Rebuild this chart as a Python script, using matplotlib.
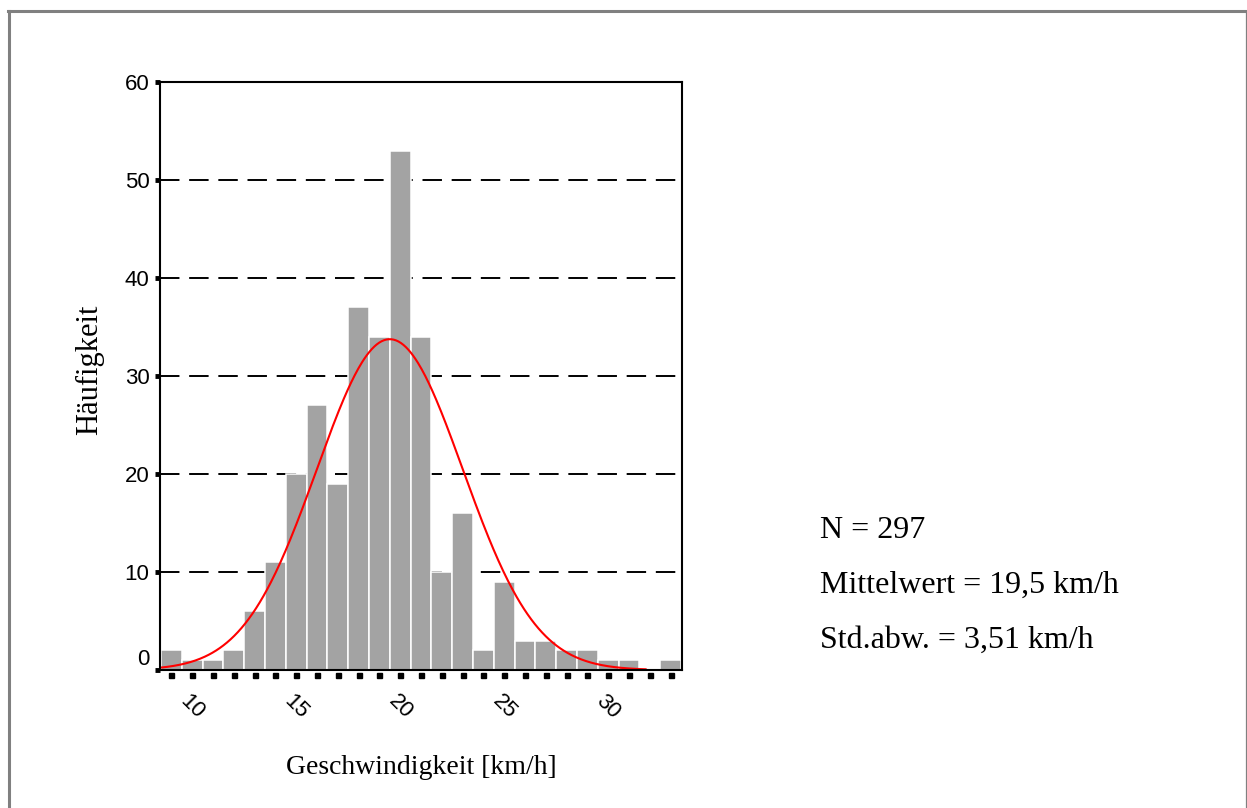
import numpy as np
import matplotlib
matplotlib.use("Agg")
from matplotlib import pyplot as plt
from matplotlib.lines import Line2D
from matplotlib.transforms import offset_copy

# Speed histogram (1 km/h classes) with fitted normal curve
speed_classes = [9, 10, 11, 12, 13, 14, 15, 16, 17, 18, 19, 20, 21,
                 22, 23, 24, 25, 26, 27, 28, 29, 30, 31, 32, 33]
counts = [2, 1, 1, 2, 6, 11, 20, 27, 19, 37, 34, 53, 34,
          10, 16, 2, 9, 3, 3, 2, 2, 1, 1, 0, 1]
x_ticks = [10, 15, 20, 25, 30]
y_ticks = [0, 10, 20, 30, 40, 50, 60]
grid_levels = [10, 20, 30, 40, 50]

n_total = 297
mean_speed = 19.5
std_speed = 3.51
bin_width = 1.0

SERIF = "Liberation Serif"
SANS = "Liberation Sans"

plt.rcParams["lines.scale_dashes"] = False

W, H = 1247, 808
fig = plt.figure(figsize=(W / 100, H / 100), dpi=100)

# frame around the whole output
def px(x, y):
    return x / W, 1 - y / H

fig.add_artist(Line2D(*zip(px(8.5, 10.5), px(8.5, 808)), color="#808080", lw=2.2))
fig.add_artist(Line2D(*zip(px(7.5, 10.5), px(1246, 10.5)), color="#808080", lw=2.2))
fig.add_artist(Line2D(*zip(px(1245.5, 10.5), px(1245.5, 808)), color="#808080", lw=0.9))

ax = fig.add_axes([160 / W, 1 - 670 / H, (682 - 160) / W, (670 - 82) / H])

ax.bar(speed_classes, counts, width=bin_width, color="#a3a3a3",
       edgecolor="white", linewidth=1.1, zorder=2)

for lvl in grid_levels:
    ax.axhline(lvl, color="black", lw=1.4, dashes=(14, 7), zorder=1)

# normal curve from N, mean and std
xs = np.linspace(8.45, 31.8, 400)
ys = n_total * bin_width * np.exp(-0.5 * ((xs - mean_speed) / std_speed) ** 2) \
    / (std_speed * np.sqrt(2 * np.pi))
ax.plot(xs, ys, color="red", lw=1.5, zorder=3)

ax.set_xlim(8.45, 33.55)
ax.set_ylim(0, 60)

for sp in ax.spines.values():
    sp.set_linewidth(1.5)
    sp.set_zorder(4)

ax.set_yticks(y_ticks)
ax.set_yticklabels([str(v) for v in y_ticks], fontfamily=SANS, fontsize=16)
ax.tick_params(axis="y", direction="out", length=3.5, width=3.5, pad=4)
# the zero label sits a little above the baseline
ax.get_yticklabels()[0].set_va("bottom")

ax.set_xticks(x_ticks)
ax.set_xticklabels([str(v) for v in x_ticks], fontfamily=SANS, fontsize=16,
                   rotation=-45, ha="center", va="top")
ax.tick_params(axis="x", length=0, pad=15)

# small square markers under each class centre
sq_tr = offset_copy(ax.get_xaxis_transform(), fig=fig, y=-5, units="dots")
ax.plot(speed_classes, [0] * len(speed_classes), ls="none", marker="s",
        ms=3.6, color="black", transform=sq_tr, clip_on=False)

fig.text(421 / W, 1 - 767 / H, "Geschwindigkeit [km/h]", fontfamily=SERIF,
         fontsize=20, ha="center", va="center")
fig.text(90 / W, 1 - 370 / H, "Häufigkeit", fontfamily=SERIF, fontsize=22,
         rotation=90, ha="center", va="center")

mean_txt = f"{mean_speed:.1f}".replace(".", ",")
std_txt = f"{std_speed:.2f}".replace(".", ",")
stats_lines = [f"N = {n_total}",
               f"Mittelwert = {mean_txt} km/h",
               f"Std.abw. = {std_txt} km/h"]
for txt, y in zip(stats_lines, [538, 593, 648]):
    fig.text(820 / W, 1 - y / H, txt, fontfamily=SERIF, fontsize=23,
             ha="left", va="baseline")

fig.savefig("out.png", dpi=100)
